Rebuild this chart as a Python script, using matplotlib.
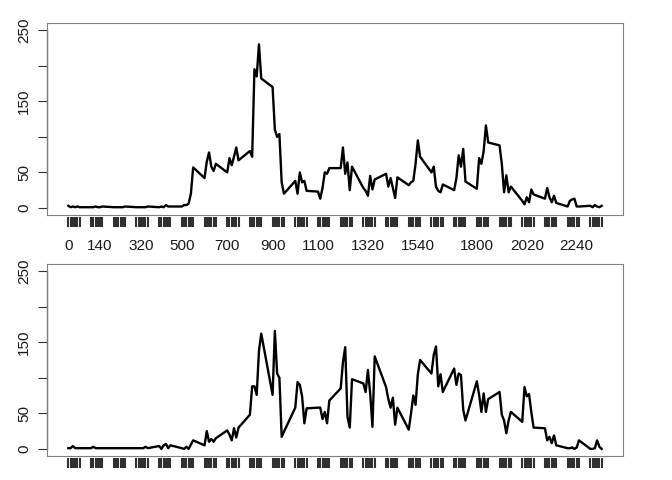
import numpy as np
import matplotlib
matplotlib.use("Agg")
import matplotlib.pyplot as plt

plt.rcParams['font.family'] = ['Liberation Sans', 'DejaVu Sans']

# time stamps in HHMM, every 10 minutes
hours = list(range(24))
minutes = [0, 10, 20, 30, 40, 50]
times = [h * 100 + m for h in hours for m in minutes]

# one row per hour (values at :00 :10 :20 :30 :40 :50)
top_vals = [
    3, 1, 2, 1, 2, 1,
    1, 1, 2, 1, 1, 2,
    1, 1, 1, 1, 1, 2,
    1, 1, 1, 1, 1, 2,
    1, 2, 1, 4, 2, 2,
    2, 4, 4, 6, 20, 57,
    42, 65, 78, 58, 52, 62,
    50, 70, 60, 72, 85, 67,
    80, 72, 195, 185, 230, 182,
    170, 110, 100, 104, 36, 20,
    38, 20, 50, 36, 38, 24,
    23, 13, 28, 50, 48, 56,
    56, 85, 48, 64, 25, 58,
    28, 24, 17, 45, 26, 40,
    48, 30, 42, 28, 14, 43,
    32, 36, 38, 62, 95, 72,
    50, 58, 30, 24, 22, 33,
    25, 42, 74, 58, 83, 37,
    27, 70, 62, 80, 116, 92,
    88, 62, 22, 46, 22, 30,
    10, 5, 15, 8, 26, 19,
    13, 28, 15, 8, 17, 7,
    2, 10, 12, 13, 2, 2,
    3, 1, 4, 2, 1, 3,
]

bottom_vals = [
    1, 1, 4, 1, 1, 1,
    1, 3, 1, 1, 1, 1,
    1, 1, 1, 1, 1, 1,
    1, 1, 1, 1, 3, 1,
    4, 0, 5, 7, 1, 5,
    1, 0, 3, 0, 6, 12,
    5, 25, 10, 14, 10, 15,
    26, 20, 12, 29, 16, 30,
    48, 88, 88, 76, 138, 162,
    76, 166, 106, 100, 17, 24,
    58, 94, 90, 74, 36, 57,
    58, 58, 42, 52, 36, 68,
    85, 122, 143, 45, 30, 98,
    92, 80, 111, 78, 31, 130,
    87, 70, 58, 72, 34, 58,
    27, 50, 75, 62, 105, 125,
    106, 132, 144, 88, 105, 80,
    113, 90, 106, 104, 55, 40,
    95, 76, 52, 78, 52, 70,
    80, 48, 40, 22, 40, 52,
    38, 87, 74, 77, 52, 30,
    29, 12, 17, 8, 19, 5,
    1, 1, 2, 0, 2, 12,
    0, 0, 1, 12, 3, 0,
]

xlabels = [0, 140, 320, 500, 700, 900, 1100, 1320, 1540, 1800, 2020, 2240]
yticks = [0, 50, 100, 150, 200, 250]
ylabels = ['0', '50', '', '150', '', '250']

fig = plt.figure(figsize=(6.72, 4.8), dpi=100)
ax1 = fig.add_axes([47 / 672, 0.552, 576 / 672, 0.4])
ax2 = fig.add_axes([47 / 672, 0.05, 576 / 672, 0.4])

for ax, vals in [(ax1, top_vals), (ax2, bottom_vals)]:
    ax.plot(times, vals, color='black', lw=1.7)
    ax.set_xlim(-94, 2444)
    ax.set_ylim(-10, 260)
    for s in ax.spines.values():
        s.set_color('#808080')
        s.set_linewidth(0.8)
    # y axis line from 0 to 250 only
    ax.plot([0, 0], [0, 250], color='#333333', lw=0.9,
            transform=ax.get_yaxis_transform(), clip_on=False)
    ax.set_yticks(yticks)
    ax.set_yticklabels(ylabels, rotation=90, va='center')
    ax.tick_params(axis='y', length=6.5, width=0.8, color='#333333',
                   pad=5, labelsize=11, labelcolor='#1a1a1a')
    # a tick at every time stamp
    ax.vlines(times, -0.011, -0.062, transform=ax.get_xaxis_transform(),
              colors='#303030', lw=1.5, clip_on=False)
    ax.set_xticks(xlabels)
    ax.set_xticklabels([str(v) for v in xlabels])
    ax.tick_params(axis='x', length=0, pad=17, labelsize=11,
                   labelcolor='#1a1a1a')

fig.savefig('out.png', dpi=100)
